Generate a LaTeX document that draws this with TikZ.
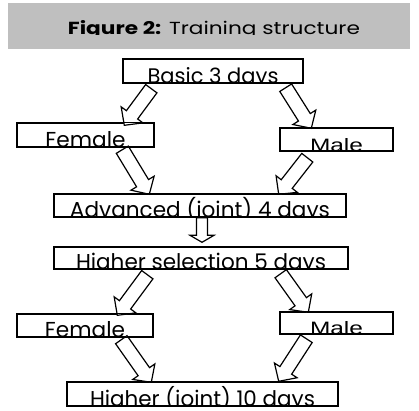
\documentclass[tikz,border=0pt]{standalone}
\usepackage{fontspec}
\setmainfont{Poppins}
\newfontfamily\arialish{Liberation Sans}
\usetikzlibrary{calc}

\tikzset{
  stagebox/.style={draw=black, line width=1.4pt, inner sep=0pt, minimum width=#1},
  stagetext/.style={anchor=base, inner sep=0pt, font=\fontsize{22}{22}\selectfont},
  barrow/.style={draw=black, fill=white, line width=1.2pt, line join=miter},
  band/.style={fill=black!25, draw=none},
}

% block arrow: name, tail point, tip point, shaft half width, head half width, head length
\newcommand\blockarrow[6]{%
  \coordinate (#1-h) at ($(#3)!#6!(#2)$);
  \draw[barrow]
    ($(#2)!#4!90:(#3)$) -- ($(#1-h)!#4!90:(#3)$) -- ($(#1-h)!#5!90:(#3)$) --
    (#3) -- ($(#1-h)!#5!-90:(#3)$) -- ($(#1-h)!#4!-90:(#3)$) --
    ($(#2)!#4!-90:(#3)$) -- cycle;}

% label sitting on the bottom edge of its box, descenders cut off;
% the text is set to a given width
\newcommand\boxlabel[3]{%
  \begin{scope}
    \clip (#1.south west) rectangle (#1.north east);
    \node[stagetext] (#1-t) at ([yshift=0.6pt]#1.south) {\resizebox{#2}{!}{#3}};
  \end{scope}}

% wide sans used for the two "Male" labels
\newcommand\malelabel{\resizebox{53pt}{13pt}{\arialish Male}}

\begin{document}
\begin{tikzpicture}[x=1pt,y=-1pt]
  \useasboundingbox (0,0) rectangle (419,410);
  \fill[white] (0,0) rectangle (419,410);

  % title band
  \fill[band] (8,3) rectangle (410,49);
  \begin{scope}
    \clip (8,3) rectangle (410,34.6);
    \node[anchor=base, inner sep=0pt, font=\fontsize{18}{18}\selectfont] (title) at (214,34)
      {\resizebox{292pt}{14pt}{\textbf{Figure 2:} Training structure}};
  \end{scope}

  % stage boxes
  \node[stagebox=180pt, minimum height=24pt] (basic)   at (213,71)    {};
  \node[stagebox=137pt, minimum height=24pt] (female1) at (85.5,135)  {};
  \node[stagebox=113pt, minimum height=23pt] (male1)   at (336.5,139.5) {};
  \node[stagebox=292pt, minimum height=23pt] (adv)     at (200,205.5) {};
  \node[stagebox=294pt, minimum height=22pt] (highsel) at (201,258)   {};
  \node[stagebox=136pt, minimum height=23pt] (female2) at (85,325.5)  {};
  \node[stagebox=113pt, minimum height=22pt] (male2)   at (336.5,323) {};
  \node[stagebox=271pt, minimum height=24pt] (highj)   at (202.5,394) {};

  % arrow ends
  \coordinate (a1-s) at ($(basic.south west)+(29,5)$);
  \coordinate (a1-e) at ($(female1.north west)+(108,3)$);
  \coordinate (a2-s) at ($(basic.south east)+(-18,4)$);
  \coordinate (a2-e) at ($(male1.north west)+(32,1)$);
  \coordinate (a3-s) at ($(female1.south west)+(106,2)$);
  \coordinate (a3-e) at ($(adv.north west)+(96,1)$);
  \coordinate (a4-s) at ($(male1.south west)+(28,6)$);
  \coordinate (a4-e) at ($(adv.north east)+(-68,1)$);
  \coordinate (a5-s) at ($(adv.south)+(2,0)$);
  \coordinate (a5-e) at ($(highsel.north)+(1,-4)$);
  \coordinate (a6-s) at ($(highsel.south west)+(94,5)$);
  \coordinate (a6-e) at ($(female2.north west)+(101,2)$);
  \coordinate (a7-s) at ($(highsel.south east)+(-68,4)$);
  \coordinate (a7-e) at ($(male2.north west)+(29,1)$);
  \coordinate (a8-s) at ($(female2.south west)+(105,2)$);
  \coordinate (a8-e) at ($(highj.north west)+(85,1)$);
  \coordinate (a9-s) at ($(male2.south west)+(27,4)$);
  \coordinate (a9-e) at ($(highj.north east)+(-60,0)$);

  % block arrows
  \blockarrow{a1}{a1-s}{a1-e}{7pt}{13.5pt}{13pt}
  \blockarrow{a2}{a2-s}{a2-e}{7pt}{13.5pt}{13pt}
  \blockarrow{a3}{a3-s}{a3-e}{7pt}{13.5pt}{13pt}
  \blockarrow{a4}{a4-s}{a4-e}{7pt}{13.5pt}{13pt}
  \blockarrow{a5}{a5-s}{a5-e}{5.5pt}{12pt}{7pt}
  \blockarrow{a6}{a6-s}{a6-e}{7pt}{13.5pt}{13pt}
  \blockarrow{a7}{a7-s}{a7-e}{7pt}{13.5pt}{13pt}
  \blockarrow{a8}{a8-s}{a8-e}{7pt}{13.5pt}{13pt}
  \blockarrow{a9}{a9-s}{a9-e}{7pt}{13.5pt}{13pt}

  % redraw box outlines over arrow ends
  \foreach \b in {basic,female1,male1,adv,highsel,female2,male2,highj}
    \draw[line width=1.4pt] (\b.south west) rectangle (\b.north east);

  % labels
  \boxlabel{basic}{131pt}{Basic 3 days}
  \boxlabel{female1}{80pt}{Female}
  \boxlabel{male1}{53pt}{\malelabel}
  \boxlabel{adv}{260pt}{Advanced (joint) 4 days}
  \boxlabel{highsel}{250pt}{Higher selection 5 days}
  \boxlabel{female2}{80pt}{Female}
  \boxlabel{male2}{53pt}{\malelabel}
  \boxlabel{highj}{225pt}{Higher (joint) 10 days}
\end{tikzpicture}
\end{document}
